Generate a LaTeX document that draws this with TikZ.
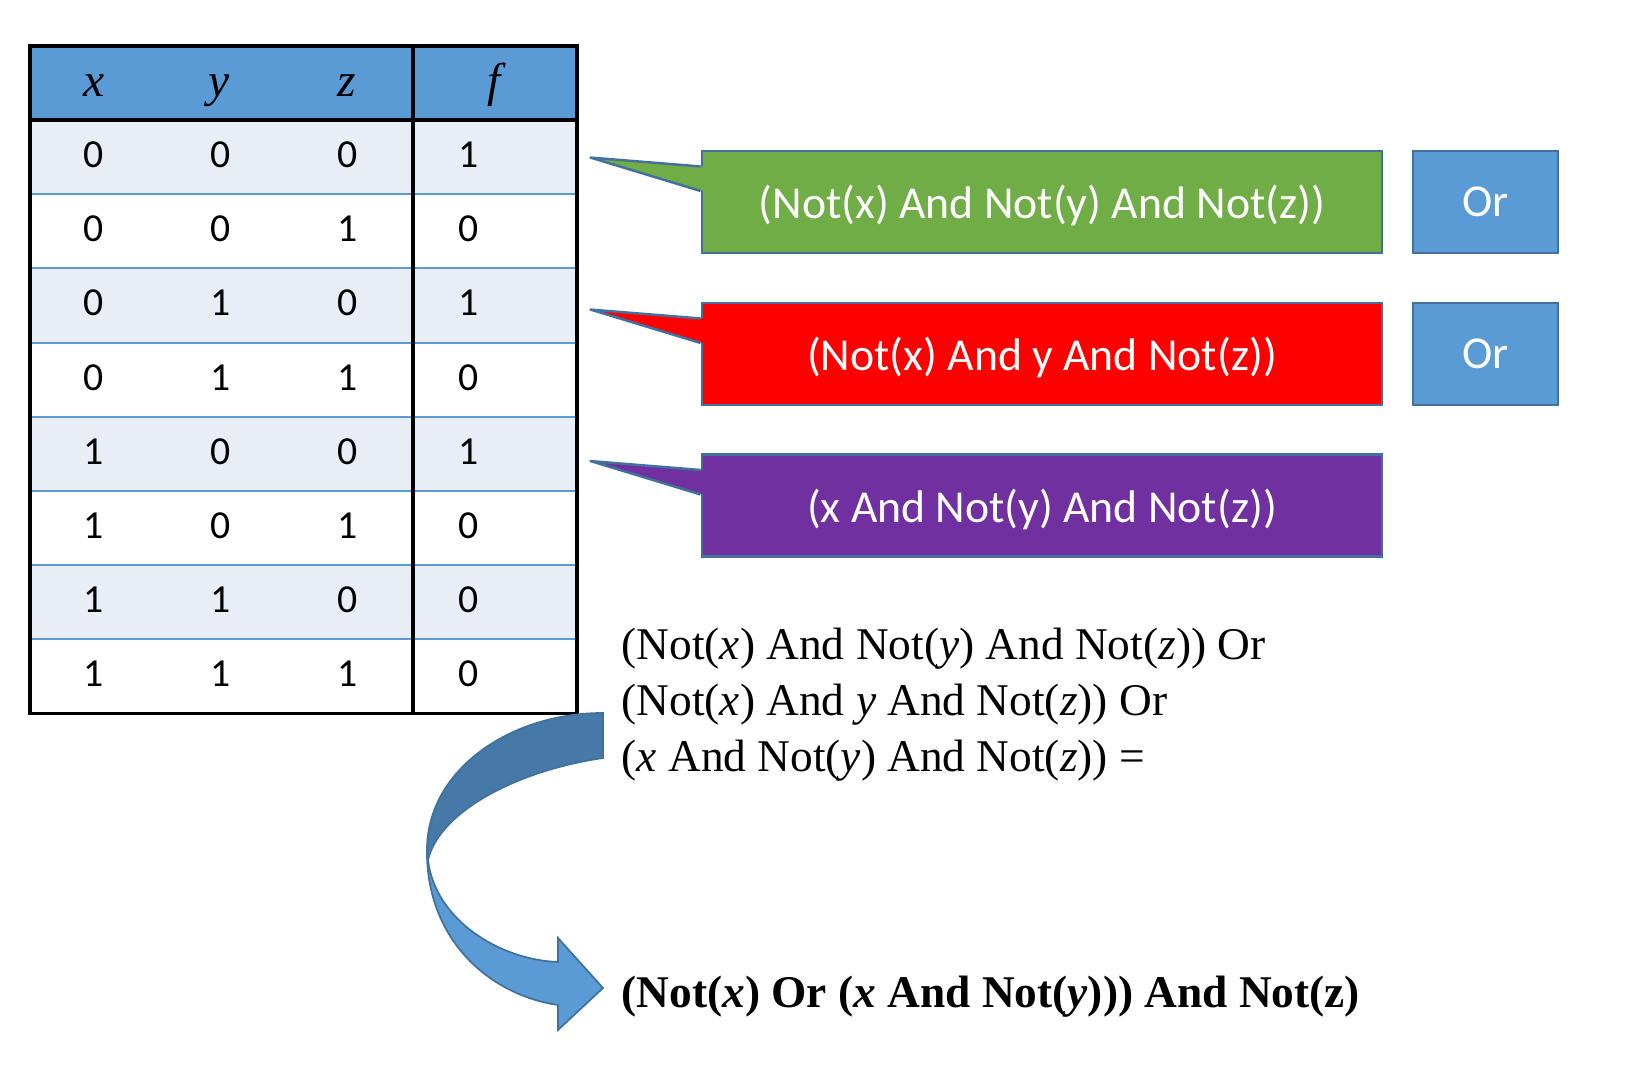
\documentclass[tikz,border=0pt]{standalone}
\usepackage{fontspec}
\setmainfont{Liberation Serif}
\newfontfamily\calib{Carlito}
\usepackage{tikz}
\usetikzlibrary{positioning,calc}
\usepackage{xcolor}
\definecolor{hdrblue}{RGB}{91,155,213}
\definecolor{rowgrey}{RGB}{233,237,245}
\definecolor{edgeblue}{RGB}{65,113,156}
\definecolor{boxgreen}{RGB}{112,173,71}
\definecolor{boxred}{RGB}{255,0,0}
\definecolor{boxpurple}{RGB}{112,48,160}
\definecolor{arrowdark}{RGB}{71,121,168}

\begin{document}
\begin{tikzpicture}[x=0.01cm,y=-0.01cm,
    digit/.style={font=\calib\fontsize{11.3pt}{13pt}\selectfont, inner sep=0pt},
    head/.style={font=\fontsize{13.5pt}{15pt}\selectfont\itshape, inner sep=0pt, anchor=base},
    callout/.style={draw=edgeblue, line width=0.7pt, minimum width=6.8cm, minimum height=1.015cm, text=white, font=\calib\fontsize{13pt}{15pt}\selectfont, inner sep=0pt, text depth=0pt},
    orbox/.style={draw=edgeblue, line width=0.7pt, fill=hdrblue, minimum width=1.45cm, minimum height=1.015cm, text=white, font=\calib\fontsize{13pt}{15pt}\selectfont, inner sep=0pt, text depth=0pt},
    pointer/.style={draw=edgeblue, line width=0.7pt, line join=round}]
    \useasboundingbox (0,0) rectangle (1650,1076);

    % truth table
    \fill[hdrblue] (30,46) rectangle (577,120);
    \fill[rowgrey] (30,120) rectangle (577,194.2);
    \fill[rowgrey] (30,268.4) rectangle (577,342.6);
    \fill[rowgrey] (30,416.8) rectangle (577,491);
    \fill[rowgrey] (30,565.2) rectangle (577,639.4);
    \draw[hdrblue, line width=0.6pt] (30,194.2) -- (577,194.2);
    \draw[hdrblue, line width=0.6pt] (30,268.4) -- (577,268.4);
    \draw[hdrblue, line width=0.6pt] (30,342.6) -- (577,342.6);
    \draw[hdrblue, line width=0.6pt] (30,416.8) -- (577,416.8);
    \draw[hdrblue, line width=0.6pt] (30,491) -- (577,491);
    \draw[hdrblue, line width=0.6pt] (30,565.2) -- (577,565.2);
    \draw[hdrblue, line width=0.6pt] (30,639.4) -- (577,639.4);
    \draw[line width=0.9pt] (30,46) rectangle (577,713.6);
    \draw[line width=0.9pt] (413,46) -- (413,713.6);
    \draw[line width=0.9pt] (30,120) -- (577,120);

    \node[head] (hx) at (94,97) {x};
    \node[head] (hy) at (219,97) {y};
    \node[head] (hz) at (347,97) {z};
    \node[head] (hf) at (494,97) {f};

    \node[digit] (r1a) at (94,155) {0}; \node[digit] (r1b) at (221,155) {0}; \node[digit] (r1c) at (348,155) {0}; \node[digit] (r1f) at (469,155) {1};
    \node[digit] (r2a) at (94,229) {0}; \node[digit] (r2b) at (221,229) {0}; \node[digit] (r2c) at (348,229) {1}; \node[digit] (r2f) at (469,229) {0};
    \node[digit] (r3a) at (94,303) {0}; \node[digit] (r3b) at (221,303) {1}; \node[digit] (r3c) at (348,303) {0}; \node[digit] (r3f) at (469,303) {1};
    \node[digit] (r4a) at (94,377.5) {0}; \node[digit] (r4b) at (221,377.5) {1}; \node[digit] (r4c) at (348,377.5) {1}; \node[digit] (r4f) at (469,377.5) {0};
    \node[digit] (r5a) at (94,452) {1}; \node[digit] (r5b) at (221,452) {0}; \node[digit] (r5c) at (348,452) {0}; \node[digit] (r5f) at (469,452) {1};
    \node[digit] (r6a) at (94,526) {1}; \node[digit] (r6b) at (221,526) {0}; \node[digit] (r6c) at (348,526) {1}; \node[digit] (r6f) at (469,526) {0};
    \node[digit] (r7a) at (94,600) {1}; \node[digit] (r7b) at (221,600) {1}; \node[digit] (r7c) at (348,600) {0}; \node[digit] (r7f) at (469,600) {0};
    \node[digit] (r8a) at (94,674) {1}; \node[digit] (r8b) at (221,674) {1}; \node[digit] (r8c) at (348,674) {1}; \node[digit] (r8f) at (469,674) {0};

    % callouts
    \node[callout, fill=boxgreen] (gbox) at (1042,202) {(Not(x) And Not(y) And Not(z))};
    \node[callout, fill=boxred] (rbox) at (1042,354) {(Not(x) And y And Not(z))};
    \node[callout, fill=boxpurple] (pbox) at (1042,505.5) {(x And Not(y) And Not(z))};

    \fill[boxgreen] ($(gbox.north west)+(3,16.5)$) -- ($(gbox.north west)+(-110,7.6)$) -- ($(gbox.north west)+(3,41)$) -- cycle;
    \draw[pointer] ($(gbox.north west)+(0,16.5)$) -- ($(gbox.north west)+(-110,7.6)$) -- ($(gbox.north west)+(0,41)$);
    \fill[boxred] ($(rbox.north west)+(3,16.5)$) -- ($(rbox.north west)+(-110,7.6)$) -- ($(rbox.north west)+(3,41)$) -- cycle;
    \draw[pointer] ($(rbox.north west)+(0,16.5)$) -- ($(rbox.north west)+(-110,7.6)$) -- ($(rbox.north west)+(0,41)$);
    \fill[boxpurple] ($(pbox.north west)+(3,16.5)$) -- ($(pbox.north west)+(-110,7.6)$) -- ($(pbox.north west)+(3,41)$) -- cycle;
    \draw[pointer] ($(pbox.north west)+(0,16.5)$) -- ($(pbox.north west)+(-110,7.6)$) -- ($(pbox.north west)+(0,41)$);

    \node[orbox] (or1) at (1485.5,202) {Or};
    \node[orbox] (or2) at (1485.5,354) {Or};

    % formula and result
    \node[anchor=north west, align=left, inner sep=0pt, font=\fontsize{12.9pt}{15.9pt}\selectfont] (sum) at (621,627)
        {(Not(\textit{x}) And Not(\textit{y}) And Not(\textit{z})) Or\\
         (Not(\textit{x}) And \textit{y} And Not(\textit{z})) Or\\
         (\textit{x} And Not(\textit{y}) And Not(\textit{z})) =};
    \node[anchor=base west, inner sep=0pt, font=\bfseries\fontsize{12.9pt}{16pt}\selectfont] (result) at (621,1008)
        {(Not(\textit{x}) Or (\textit{x} And Not(\textit{y}))) And Not(z)};

    % curved arrow
    \filldraw[fill=hdrblue, draw=edgeblue, line width=0.5pt] (427,847) .. controls (425,940) and (490,995) .. (558,1005) -- (558,1030) -- (603,988) -- (558,938) -- (558,962) .. controls (500,960) and (435,920) .. (428,860) -- cycle;
    \filldraw[fill=arrowdark, draw=edgeblue, line width=0.5pt] (603,713) .. controls (510,713) and (427,770) .. (427,850) -- (428,860) .. controls (440,810) and (520,770) .. (603,758) -- cycle;
\end{tikzpicture}
\end{document}
